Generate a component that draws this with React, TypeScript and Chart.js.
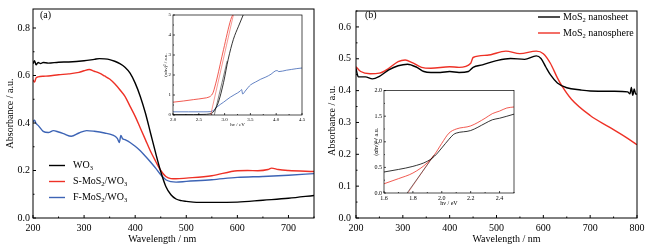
import React, { useEffect, useRef, useState } from "react";
import { Chart, registerables } from "chart.js";
Chart.register(...registerables);

const SERIF = "'Liberation Serif', 'Times New Roman', 'DejaVu Serif', serif";
Chart.defaults.font.family = SERIF;
const BLACK = "#000000";
const RED = "#ee3126";
const BLUE = "#3d64b5";

// ---------- Panel (a): absorbance vs wavelength ----------
const wlWO3 = [200, 203, 206, 210, 215, 220, 230, 250, 270, 300, 320, 330, 340, 350, 360, 370, 380, 390, 400, 410, 420, 430, 440, 450, 460, 470, 480, 490, 500, 520, 550, 600, 650, 700, 750];
const absWO3 = [0.65, 0.662, 0.645, 0.655, 0.65, 0.655, 0.652, 0.656, 0.657, 0.662, 0.668, 0.671, 0.67, 0.667, 0.66, 0.65, 0.635, 0.61, 0.568, 0.512, 0.442, 0.358, 0.274, 0.196, 0.133, 0.098, 0.08, 0.073, 0.07, 0.066, 0.066, 0.067, 0.075, 0.083, 0.095];

const wlSMoS2 = [200, 203, 206, 210, 220, 230, 250, 270, 290, 300, 310, 320, 330, 340, 350, 360, 370, 380, 390, 400, 410, 420, 430, 440, 450, 460, 470, 480, 500, 550, 600, 620, 640, 660, 667, 680, 700, 750];
const absSMoS2 = [0.582, 0.572, 0.59, 0.594, 0.597, 0.598, 0.603, 0.607, 0.613, 0.62, 0.625, 0.618, 0.61, 0.598, 0.585, 0.565, 0.54, 0.512, 0.47, 0.428, 0.379, 0.33, 0.281, 0.239, 0.2, 0.175, 0.166, 0.165, 0.168, 0.178, 0.199, 0.2, 0.199, 0.204, 0.21, 0.204, 0.2, 0.196];

const wlFMoS2 = [200, 203, 206, 210, 220, 230, 240, 250, 260, 275, 290, 305, 320, 340, 355, 365, 369, 372, 375, 380, 390, 400, 410, 420, 430, 440, 450, 460, 470, 480, 500, 550, 600, 650, 700, 750];
const absFMoS2 = [0.405, 0.412, 0.398, 0.39, 0.365, 0.36, 0.368, 0.362, 0.355, 0.344, 0.358, 0.368, 0.365, 0.358, 0.35, 0.335, 0.318, 0.348, 0.335, 0.33, 0.318, 0.302, 0.283, 0.26, 0.236, 0.21, 0.182, 0.161, 0.153, 0.151, 0.154, 0.161, 0.171, 0.175, 0.18, 0.187];

const xTicksA = [200, 300, 400, 500, 600, 700];
const yTicksA = [0, 0.2, 0.4, 0.6, 0.8];

// ---------- Inset of (a): Tauc plot ----------
const evRedA = [2.0, 2.2, 2.4, 2.6, 2.7, 2.75, 2.78, 2.81, 2.85, 2.98, 3.12, 3.165];
const taucRedA = [0.64, 0.7, 0.77, 0.84, 0.9, 1.0, 1.14, 1.4, 1.8, 3.28, 4.77, 5.05];
const evBlackA = [2.0, 2.4, 2.6, 2.7, 2.78, 2.83, 2.88, 2.98, 3.07, 3.17, 3.27, 3.36];
const taucBlackA = [0.02, 0.02, 0.03, 0.05, 0.15, 0.35, 0.64, 1.63, 2.79, 3.78, 4.44, 5.0];
const evBlueA = [2.0, 2.3, 2.6, 2.72, 2.78, 2.85, 2.98, 3.11, 3.2, 3.3, 3.33, 3.35, 3.4, 3.46, 3.5, 3.6, 3.7, 3.8, 3.9, 3.98, 4.02, 4.05, 4.2, 4.3, 4.4, 4.5];
const taucBlueA = [0.16, 0.16, 0.16, 0.17, 0.22, 0.4, 0.64, 0.89, 1.03, 1.19, 1.27, 1.05, 1.2, 1.39, 1.5, 1.65, 1.79, 1.9, 2.04, 2.2, 2.22, 2.17, 2.24, 2.28, 2.32, 2.35];
const fitRedAx = [2.73, 3.17];
const fitRedAy = [0, 5];
const fitBlackAx = [2.8, 3.05];
const fitBlackAy = [0, 2.7];
const xTicksInA = [2.0, 2.5, 3.0, 3.5, 4.0, 4.5];
const yTicksInA = [0, 1, 2, 3, 4, 5];

// ---------- Panel (b): absorbance vs wavelength ----------
const wlSheet = [200, 203, 205, 220, 235, 250, 270, 290, 310, 330, 345, 360, 380, 400, 420, 440, 450, 470, 500, 530, 560, 585, 595, 605, 615, 630, 650, 680, 700, 750, 780, 785, 788, 791, 794, 797, 800];
const absSheet = [0.47, 0.45, 0.443, 0.443, 0.437, 0.445, 0.465, 0.478, 0.483, 0.473, 0.46, 0.457, 0.457, 0.46, 0.457, 0.46, 0.473, 0.481, 0.494, 0.501, 0.498, 0.509, 0.501, 0.475, 0.45, 0.424, 0.409, 0.402, 0.399, 0.398, 0.396, 0.39, 0.41, 0.385, 0.405, 0.39, 0.389];
const wlSphere = [200, 210, 230, 250, 270, 290, 305, 320, 340, 360, 400, 420, 445, 450, 480, 520, 550, 585, 600, 615, 630, 640, 660, 700, 740, 780, 800];
const absSphere = [0.475, 0.46, 0.453, 0.455, 0.47, 0.491, 0.496, 0.488, 0.473, 0.47, 0.475, 0.473, 0.486, 0.504, 0.511, 0.524, 0.516, 0.524, 0.516, 0.486, 0.44, 0.414, 0.373, 0.322, 0.286, 0.25, 0.23];
const xTicksB = [200, 300, 400, 500, 600, 700, 800];
const yTicksB = [0, 0.1, 0.2, 0.3, 0.4, 0.5, 0.6];

// ---------- Inset of (b): Tauc plot ----------
const evSheet = [1.6, 1.7, 1.8, 1.9, 1.95, 2.0, 2.05, 2.08, 2.1, 2.2, 2.3, 2.35, 2.4, 2.5];
const taucSheet = [0.41, 0.46, 0.52, 0.62, 0.72, 0.88, 1.05, 1.14, 1.17, 1.22, 1.36, 1.43, 1.46, 1.54];
const evSphere = [1.6, 1.7, 1.8, 1.9, 1.95, 2.0, 2.05, 2.1, 2.2, 2.3, 2.35, 2.4, 2.45, 2.5];
const taucSphere = [0.18, 0.28, 0.39, 0.59, 0.75, 0.97, 1.17, 1.25, 1.31, 1.46, 1.55, 1.6, 1.66, 1.68];
const fitSheetX = [1.76, 1.95];
const fitSheetY = [0, 0.75];
const fitSphereX = [1.765, 1.94];
const fitSphereY = [0, 0.72];
const xTicksInB = [1.6, 1.8, 2.0, 2.2, 2.4];
const yTicksInB = [0, 0.5, 1.0, 1.5, 2.0];

// ---------- helpers ----------
function lineDs(xs: number[], ys: number[], color: string, width: number, smooth = true) {
  return {
    data: xs.map((x, i) => ({ x, y: ys[i] })),
    borderColor: color,
    backgroundColor: color,
    borderWidth: width,
    pointRadius: 0,
    fill: false,
    tension: 0,
    cubicInterpolationMode: smooth ? ("monotone" as const) : ("default" as const),
  };
}

type AxisOpts = {
  min: number;
  max: number;
  ticks: number[];
  fmt: (v: number) => string;
  title: string;
  font: number;
  titleFont: number;
  tickPad: number;
  titlePad: { top?: number; bottom?: number };
  size: number;
  horizontal: boolean;
};

function axis(o: AxisOpts) {
  return {
    type: "linear" as const,
    min: o.min,
    max: o.max,
    afterBuildTicks: (s: any) => {
      s.ticks = o.ticks.map((v) => ({ value: v }));
    },
    afterFit: (s: any) => {
      if (o.horizontal) s.height = o.size;
      else s.width = o.size;
    },
    grid: { display: false, drawTicks: false },
    border: { display: false },
    ticks: {
      color: BLACK,
      font: { family: SERIF, size: o.font },
      padding: o.tickPad,
      maxRotation: 0,
      autoSkip: false,
      callback: (v: any) => o.fmt(Number(v)),
    },
    title: {
      display: true,
      text: o.title,
      color: BLACK,
      font: { family: SERIF, size: o.titleFont },
      padding: { top: 0, bottom: 0, ...o.titlePad },
    },
  };
}

function framePlugin(lw: number, xMinor: number, yMinor: number, major: number, minor: number, fillWhite: boolean) {
  return {
    id: "frameTicks",
    beforeDatasetsDraw(chart: any) {
      if (!fillWhite) return;
      const a = chart.chartArea;
      const ctx = chart.ctx;
      ctx.save();
      ctx.fillStyle = "#ffffff";
      ctx.fillRect(a.left, a.top, a.right - a.left, a.bottom - a.top);
      ctx.restore();
    },
    afterDatasetsDraw(chart: any) {
      const { ctx, chartArea: a } = chart;
      const xs = chart.scales.x;
      const ys = chart.scales.y;
      ctx.save();
      ctx.strokeStyle = BLACK;
      ctx.lineWidth = lw;
      ctx.strokeRect(a.left, a.top, a.right - a.left, a.bottom - a.top);
      ctx.beginPath();
      const each = (min: number, max: number, step: number, cb: (v: number, k: number) => void) => {
        const n0 = Math.ceil(min / step - 1e-6);
        const n1 = Math.floor(max / step + 1e-6);
        for (let k = n0; k <= n1; k++) cb(k * step, k);
      };
      each(xs.min, xs.max, xMinor, (v, k) => {
        const px = xs.getPixelForValue(v);
        const len = k % 2 === 0 ? major : minor;
        ctx.moveTo(px, a.bottom);
        ctx.lineTo(px, a.bottom - len);
      });
      each(ys.min, ys.max, yMinor, (v, k) => {
        const py = ys.getPixelForValue(v);
        const len = k % 2 === 0 ? major : minor;
        ctx.moveTo(a.left, py);
        ctx.lineTo(a.left + len, py);
      });
      ctx.stroke();
      ctx.restore();
    },
  };
}

function drawRich(ctx: CanvasRenderingContext2D, text: string, x: number, y: number, size: number) {
  const parts: { t: string; sub: boolean }[] = [];
  let buf = "";
  for (let i = 0; i < text.length; i++) {
    if (text[i] === "_" && i + 1 < text.length) {
      if (buf) parts.push({ t: buf, sub: false });
      buf = "";
      parts.push({ t: text[i + 1], sub: true });
      i++;
    } else buf += text[i];
  }
  if (buf) parts.push({ t: buf, sub: false });
  let cx = x;
  ctx.textBaseline = "middle";
  ctx.textAlign = "left";
  ctx.fillStyle = BLACK;
  for (const p of parts) {
    const s = p.sub ? size * 0.65 : size;
    ctx.font = `${s}px ${SERIF}`;
    ctx.fillText(p.t, cx, p.sub ? y + size * 0.28 : y);
    cx += ctx.measureText(p.t).width;
  }
}

type LegendItem = { text: string; color: string; y: number };
function legendPlugin(items: LegendItem[], x0: number, x1: number, tx: number, size: number, label: { text: string; x: number; y: number }) {
  return {
    id: "richLegend",
    afterDraw(chart: any) {
      const ctx: CanvasRenderingContext2D = chart.ctx;
      ctx.save();
      for (const it of items) {
        ctx.strokeStyle = it.color;
        ctx.lineWidth = 1.4;
        ctx.beginPath();
        ctx.moveTo(x0, it.y);
        ctx.lineTo(x1, it.y);
        ctx.stroke();
        drawRich(ctx, it.text, tx, it.y, size);
      }
      drawRich(ctx, label.text, label.x, label.y, size);
      ctx.restore();
    },
  };
}

function baseOptions(padding: any, scales: any) {
  return {
    responsive: false,
    maintainAspectRatio: false,
    animation: false as const,
    devicePixelRatio: 1,
    layout: { padding },
    plugins: { legend: { display: false }, tooltip: { enabled: false }, title: { display: false } },
    events: [] as any[],
    scales,
  };
}

const fmt1 = (v: number) => v.toFixed(1);
const fmt0 = (v: number) => v.toFixed(0);

// ---------- configs ----------
function configA() {
  return {
    type: "line" as const,
    data: {
      datasets: [
        lineDs(wlWO3, absWO3, BLACK, 1.4),
        lineDs(wlSMoS2, absSMoS2, RED, 1.4),
        lineDs(wlFMoS2, absFMoS2, BLUE, 1.4),
      ],
    },
    options: baseOptions(
      { top: 5, right: 16, left: 0, bottom: 0 },
      {
        x: axis({ min: 200, max: 750, ticks: xTicksA, fmt: fmt0, title: "Wavelength / nm" + "\u00a0".repeat(9), font: 10, titleFont: 10, tickPad: 4, titlePad: { bottom: 4 }, size: 31, horizontal: true }),
        y: axis({ min: 0, max: 0.88, ticks: yTicksA, fmt: fmt1, title: "Absorbance / a.u.", font: 10, titleFont: 10, tickPad: 3, titlePad: { top: 4 }, size: 33, horizontal: false }),
      }
    ),
    plugins: [
      framePlugin(1, 50, 0.1, 3, 1.5, false),
      legendPlugin(
        [
          { text: "WO_3", color: BLACK, y: 165.5 },
          { text: "S-MoS_2/WO_3", color: RED, y: 181.5 },
          { text: "F-MoS_2/WO_3", color: BLUE, y: 197.5 },
        ],
        49, 65, 73, 10,
        { text: "(a)", x: 40, y: 15 }
      ),
    ],
  };
}

function configInsetA() {
  return {
    type: "line" as const,
    data: {
      datasets: [
        lineDs(evRedA, taucRedA, RED, 0.8),
        lineDs(fitRedAx, fitRedAy, RED, 0.5, false),
        lineDs(evBlackA, taucBlackA, BLACK, 0.8),
        lineDs(fitBlackAx, fitBlackAy, BLACK, 0.5, false),
        lineDs(evBlueA, taucBlueA, BLUE, 0.8),
      ],
    },
    options: baseOptions(
      { top: 4, right: 6, left: 0, bottom: 0 },
      {
        x: axis({ min: 2.0, max: 4.5, ticks: xTicksInA, fmt: fmt1, title: "h\u03bd / eV", font: 5, titleFont: 5, tickPad: 2, titlePad: { bottom: 3 }, size: 16, horizontal: true }),
        y: axis({ min: 0, max: 5, ticks: yTicksInA, fmt: fmt0, title: "(\u03b1h\u03bd)\u00b2 / a.u.", font: 5, titleFont: 5, tickPad: 2, titlePad: { top: 4 }, size: 14, horizontal: false }),
      }
    ),
    plugins: [framePlugin(0.7, 0.25, 0.5, 2, 1, true)],
  };
}

function configB() {
  return {
    type: "line" as const,
    data: {
      datasets: [lineDs(wlSheet, absSheet, BLACK, 1.4), lineDs(wlSphere, absSphere, RED, 1.4)],
    },
    options: baseOptions(
      { top: 6, right: 30, left: 0, bottom: 0 },
      {
        x: axis({ min: 200, max: 800, ticks: xTicksB, fmt: fmt0, title: "\u00a0".repeat(8) + "Wavelength / nm", font: 10, titleFont: 10, tickPad: 4, titlePad: { bottom: 4 }, size: 31, horizontal: true }),
        y: axis({ min: 0, max: 0.65, ticks: yTicksB, fmt: fmt1, title: "Absorbance / a.u." + "\u00a0".repeat(5), font: 10, titleFont: 10, tickPad: 5, titlePad: { top: 4 }, size: 34, horizontal: false }),
      }
    ),
    plugins: [
      framePlugin(1, 50, 0.05, 3, 1.5, false),
      legendPlugin(
        [
          { text: "MoS_2 nanosheet", color: BLACK, y: 17 },
          { text: "MoS_2 nanosphere", color: RED, y: 33 },
        ],
        216, 238, 241, 10,
        { text: "(b)", x: 43, y: 15 }
      ),
    ],
  };
}

function configInsetB() {
  return {
    type: "line" as const,
    data: {
      datasets: [
        lineDs(evSheet, taucSheet, BLACK, 0.8),
        lineDs(fitSheetX, fitSheetY, BLACK, 0.5, false),
        lineDs(evSphere, taucSphere, RED, 0.8),
        lineDs(fitSphereX, fitSphereY, RED, 0.5, false),
      ],
    },
    options: baseOptions(
      { top: 4, right: 6, left: 0, bottom: 0 },
      {
        x: axis({ min: 1.6, max: 2.5, ticks: xTicksInB, fmt: fmt1, title: "h\u03bd / eV", font: 6, titleFont: 6, tickPad: 2, titlePad: { bottom: 2 }, size: 16, horizontal: true }),
        y: axis({ min: 0, max: 2.0, ticks: yTicksInB, fmt: fmt1, title: "(\u03b1h\u03bd)\u00b2 / a.u.", font: 6, titleFont: 6, tickPad: 2, titlePad: { top: 3 }, size: 14, horizontal: false }),
      }
    ),
    plugins: [framePlugin(0.7, 0.1, 0.25, 2, 1, true)],
  };
}

function ChartBox(props: { make: () => any; left: number; top: number; width: number; height: number }) {
  const ref = useRef<HTMLCanvasElement>(null);
  useEffect(() => {
    const chart = new Chart(ref.current as HTMLCanvasElement, props.make());
    return () => chart.destroy();
  }, []);
  return (
    <canvas
      ref={ref}
      width={props.width}
      height={props.height}
      style={{ position: "absolute", left: props.left, top: props.top, width: props.width, height: props.height }}
    />
  );
}

export default function App() {
  const [ready, setReady] = useState(false);
  useEffect(() => {
    let alive = true;
    const fonts: any = (document as any).fonts;
    const done = () => {
      if (alive) setReady(true);
    };
    if (fonts && fonts.load) {
      Promise.all([fonts.load("10px 'Liberation Serif'"), fonts.load("5px 'Liberation Serif'")]).then(done, done);
    } else done();
    return () => {
      alive = false;
    };
  }, []);
  return (
    <div style={{ position: "fixed", left: 0, top: 0, width: 667, height: 249, background: "#ffffff", overflow: "hidden" }}>
      {ready && (
        <>
          <ChartBox make={configA} left={0} top={0} width={330} height={249} />
          <ChartBox make={configB} left={322} top={0} width={345} height={249} />
          <ChartBox make={configInsetA} left={159} top={10} width={149} height={121} />
          <ChartBox make={configInsetB} left={370} top={85} width={150} height={124} />
        </>
      )}
    </div>
  );
}
